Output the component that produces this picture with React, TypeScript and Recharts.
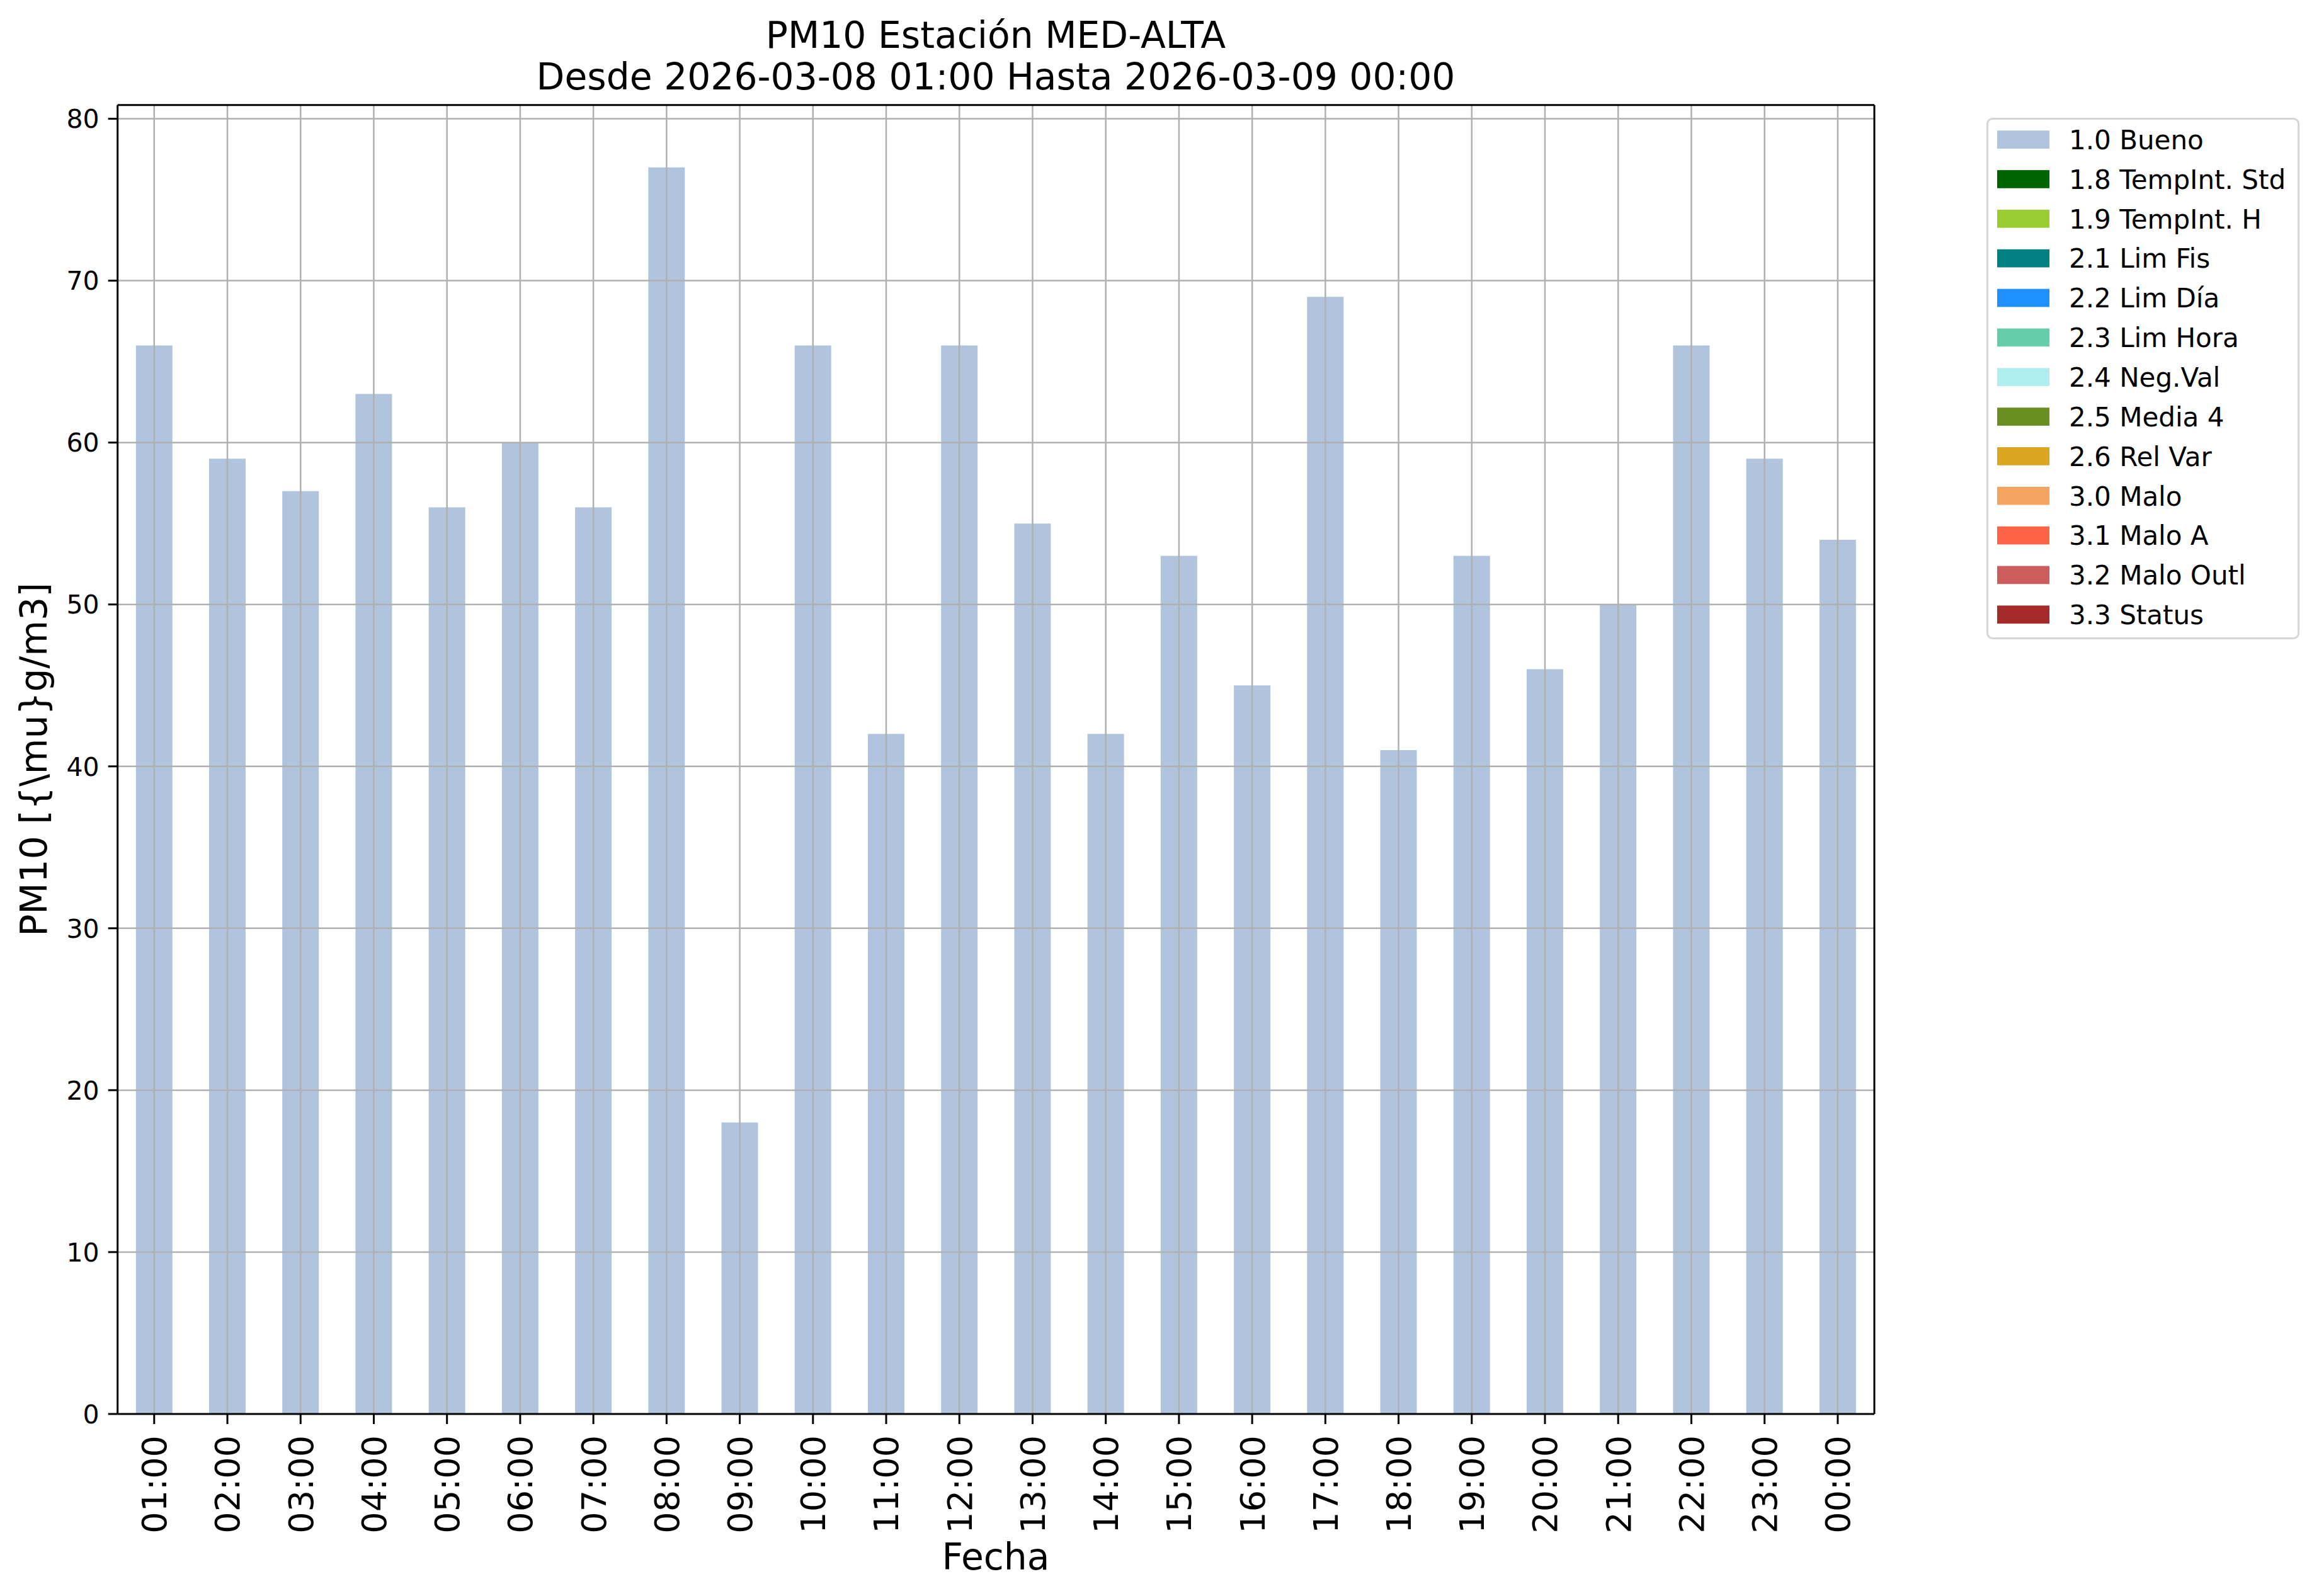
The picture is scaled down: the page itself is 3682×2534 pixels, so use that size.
import React from 'react';
import { BarChart, Bar, XAxis, YAxis, ReferenceLine, Legend } from 'recharts';

const FONT = '"DejaVu Sans", sans-serif';

const hours = [
  '01:00', '02:00', '03:00', '04:00', '05:00', '06:00', '07:00', '08:00',
  '09:00', '10:00', '11:00', '12:00', '13:00', '14:00', '15:00', '16:00',
  '17:00', '18:00', '19:00', '20:00', '21:00', '22:00', '23:00', '00:00',
];
const bueno = [66, 59, 57, 63, 56, 60, 56, 77, 18, 66, 42, 66, 55, 42, 53, 45, 69, 41, 53, 46, 50, 66, 59, 54];
const yTicks = [0, 10, 20, 30, 40, 50, 60, 70, 80];
const yDomain: [number, number] = [0, 80.85];

const flagLabels = [
  '1.0 Bueno', '1.8 TempInt. Std', '1.9 TempInt. H', '2.1 Lim Fis', '2.2 Lim Día',
  '2.3 Lim Hora', '2.4 Neg.Val', '2.5 Media 4', '2.6 Rel Var', '3.0 Malo',
  '3.1 Malo A', '3.2 Malo Outl', '3.3 Status',
];
const flagColors = [
  '#b0c4de', '#006400', '#9acd32', '#008080', '#1e90ff',
  '#66cdaa', '#afeeee', '#6b8e23', '#daa520', '#f4a460',
  '#ff6347', '#cd5c5c', '#a52a2a',
];

const titleLines = ['PM10 Estación MED-ALTA', 'Desde 2026-03-08 01:00 Hasta 2026-03-09 00:00'];
const xLabel = 'Fecha';
const yLabel = 'PM10 [{\\mu}g/m3]';

const data = hours.map((h, i) => ({ hour: h, bueno: bueno[i] }));

const GRID = '#b0b0b0';

const XTick = (props: any) => {
  const { x, y, payload } = props;
  return (
    <text
      x={x}
      y={y}
      transform={`rotate(-90, ${x}, ${y})`}
      textAnchor="end"
      dy="0.36em"
      fontSize={54}
      fontFamily={FONT}
      fill="#000"
    >
      {payload.value}
    </text>
  );
};

const YTick = (props: any) => {
  const { x, y, payload } = props;
  return (
    <text x={x} y={y} textAnchor="end" dy="0.36em" fontSize={41} fontFamily={FONT} fill="#000">
      {payload.value}
    </text>
  );
};

const LEG_W = 497;
const LEG_H = 828;

const renderLegend = () => (
  <svg width={LEG_W} height={LEG_H} style={{ display: 'block' }}>
    <rect x={1.5} y={1.5} width={LEG_W - 3} height={LEG_H - 3} rx={8} ry={8} fill="#fff" stroke="#d6d6d6" strokeWidth={3} />
    {flagLabels.map((label, i) => {
      const cy = 34.6 + i * 62.85;
      return (
        <g key={label}>
          <rect x={17} y={cy - 14.35} width={83} height={28.7} fill={flagColors[i]} />
          <text x={131} y={cy + 15.3} fontSize={42} fontFamily={FONT} fill="#000">
            {label}
          </text>
        </g>
      );
    })}
  </svg>
);

export default function App() {
  return (
    <div style={{ position: 'absolute', left: 0, top: 0, width: 3682, height: 2534, background: '#fff' }}>
      <BarChart
        width={3682}
        height={2534}
        data={data}
        margin={{ top: 165.7, right: 705, bottom: 0, left: 0 }}
        barCategoryGap="25%"
      >
        <XAxis
          dataKey="hour"
          height={289}
          interval={0}
          tickSize={16}
          tickMargin={18}
          tick={<XTick />}
          axisLine={{ stroke: '#000', strokeWidth: 3 }}
          tickLine={{ stroke: '#000', strokeWidth: 3 }}
        />
        <XAxis
          xAxisId="top"
          dataKey="hour"
          orientation="top"
          height={1}
          interval={0}
          tick={false}
          tickLine={false}
          axisLine={{ stroke: '#000', strokeWidth: 3 }}
        />
        <YAxis
          type="number"
          domain={yDomain}
          ticks={yTicks}
          allowDataOverflow
          width={186.7}
          tickSize={15}
          tickMargin={14}
          tick={<YTick />}
          axisLine={{ stroke: '#000', strokeWidth: 3 }}
          tickLine={{ stroke: '#000', strokeWidth: 3 }}
        />
        <YAxis
          yAxisId="right"
          orientation="right"
          type="number"
          domain={yDomain}
          ticks={yTicks}
          allowDataOverflow
          width={1}
          tick={false}
          tickLine={false}
          axisLine={{ stroke: '#000', strokeWidth: 3 }}
        />
        <Bar dataKey="bueno" fill={flagColors[0]} isAnimationActive={false} />
        {hours.map((h) => (
          <ReferenceLine key={`v-${h}`} x={h} stroke={GRID} strokeWidth={2.5} />
        ))}
        {yTicks
          .filter((v) => v > 0)
          .map((v) => (
            <ReferenceLine key={`h-${v}`} y={v} stroke={GRID} strokeWidth={2.5} />
          ))}
        <Legend
          layout="vertical"
          align="center"
          verticalAlign="middle"
          wrapperStyle={{ position: 'absolute', left: 3154, top: 186.7, width: LEG_W, height: LEG_H }}
          content={renderLegend}
        />
      </BarChart>
      <svg
        width={3682}
        height={2534}
        style={{ position: 'absolute', left: 0, top: 0, pointerEvents: 'none' }}
      >
        <text x={1581} y={76} textAnchor="middle" fontSize={58.3} fontFamily={FONT} fill="#000">
          {titleLines[0]}
        </text>
        <text x={1581} y={142} textAnchor="middle" fontSize={58.3} fontFamily={FONT} fill="#000">
          {titleLines[1]}
        </text>
        <text x={1581} y={2491.7} textAnchor="middle" fontSize={58.3} fontFamily={FONT} fill="#000">
          {xLabel}
        </text>
        <text
          x={74}
          y={1206}
          transform="rotate(-90, 74, 1206)"
          textAnchor="middle"
          fontSize={58.3}
          fontFamily={FONT}
          fill="#000"
        >
          {yLabel}
        </text>
      </svg>
    </div>
  );
}
